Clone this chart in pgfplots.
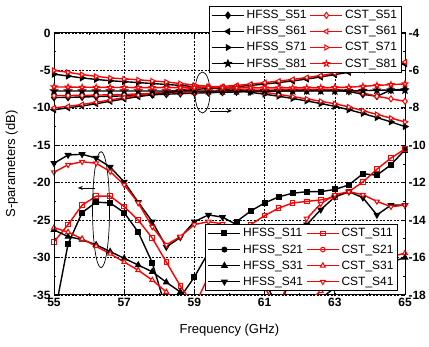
\documentclass[border=0pt]{standalone}
\usepackage{pgfplots}
\pgfplotsset{compat=1.18}
\usepackage{pgfplotstable}
\usepackage{fontspec}
\setmainfont{Liberation Sans}
\usetikzlibrary{plotmarks,arrows.meta}

\pgfdeclareplotmark{fstar}{%
  \pgfpathmoveto{\pgfpointpolar{90}{\pgfplotmarksize}}%
  \pgfpathlineto{\pgfpointpolar{126}{0.42\pgfplotmarksize}}%
  \pgfpathlineto{\pgfpointpolar{162}{\pgfplotmarksize}}%
  \pgfpathlineto{\pgfpointpolar{198}{0.42\pgfplotmarksize}}%
  \pgfpathlineto{\pgfpointpolar{234}{\pgfplotmarksize}}%
  \pgfpathlineto{\pgfpointpolar{270}{0.42\pgfplotmarksize}}%
  \pgfpathlineto{\pgfpointpolar{306}{\pgfplotmarksize}}%
  \pgfpathlineto{\pgfpointpolar{342}{0.42\pgfplotmarksize}}%
  \pgfpathlineto{\pgfpointpolar{18}{\pgfplotmarksize}}%
  \pgfpathlineto{\pgfpointpolar{54}{0.42\pgfplotmarksize}}%
  \pgfpathclose
  \pgfusepathqfillstroke
}

\pgfplotstableread{
f    h11   c11   h21   c21   h31   c31   h41   c41
55.0 -38.0 -27.9 -45.0 -44.0 -26.3 -26.0 -17.4 -18.6
55.4 -28.2 -25.6 -44.0 -43.0 -27.2 -26.6 -16.3 -17.6
55.8 -24.0 -23.0 -43.0 -42.0 -27.6 -27.5 -16.2 -17.2
56.2 -22.6 -21.8 -42.5 -41.5 -28.3 -28.5 -16.7 -17.4
56.6 -22.7 -21.8 -42.0 -41.0 -29.2 -29.5 -17.9 -18.5
57.0 -24.0 -23.2 -41.5 -40.5 -30.1 -30.6 -19.9 -20.3
57.4 -26.6 -25.0 -41.0 -40.0 -31.0 -31.7 -22.6 -22.7
57.8 -30.7 -27.4 -40.5 -39.5 -31.9 -33.0 -25.2 -25.9
58.2 -37.0 -30.6 -40.0 -39.0 -33.3 -34.6 -28.6 -28.3
58.6 -35.3 -33.8 -39.5 -38.5 -34.6 -36.5 -27.3 -27.2
59.0 -32.6 -36.5 -39.0 -38.0 -36.5 -38.0 -25.2 -25.6
59.4 -29.3 -32.5 -38.5 -37.5 -38.0 -39.0 -24.3 -25.2
59.8 -27.0 -29.8 -38.0 -37.0 -39.0 -40.0 -24.6 -25.5
60.2 -25.2 -27.8 -37.5 -36.5 -40.0 -40.5 -25.6 -26.5
60.6 -23.8 -25.6 -37.0 -36.0 -40.0 -40.5 -28.5 -29.0
61.0 -22.7 -24.4 -36.5 -36.0 -39.5 -40.0 -33.0 -34.0
61.4 -21.9 -23.4 -36.5 -36.0 -39.0 -39.0 -37.0 -37.0
61.8 -21.4 -22.7 -37.0 -36.5 -38.0 -37.5 -32.0 -31.0
62.2 -21.2 -22.5 -37.5 -37.0 -37.0 -36.0 -25.6 -24.8
62.6 -21.2 -22.3 -38.0 -37.5 -35.5 -34.5 -23.6 -22.8
63.0 -20.9 -21.9 -38.0 -38.0 -34.0 -33.3 -21.9 -21.6
63.4 -20.3 -21.2 -38.5 -38.0 -33.0 -32.3 -21.2 -21.2
63.8 -18.8 -19.9 -38.5 -38.5 -32.0 -31.3 -22.0 -21.6
64.2 -19.0 -18.2 -39.0 -38.5 -31.2 -30.5 -24.3 -22.5
64.6 -17.6 -16.7 -39.0 -39.0 -30.6 -29.9 -23.0 -23.2
65.0 -15.6 -15.5 -39.5 -39.0 -30.0 -29.4 -23.0 -23.0
}\lowtab

\pgfplotstableread{
f    h51   c51   h61   c61   h71   c71   h81   c81
55.0 -7.45 -7.35 -8.10 -8.00 -6.20 -6.00 -7.10 -6.88
55.4 -7.44 -7.34 -8.00 -7.92 -6.30 -6.10 -7.10 -6.89
55.8 -7.42 -7.33 -7.90 -7.82 -6.40 -6.22 -7.10 -6.90
56.2 -7.40 -7.32 -7.78 -7.70 -6.48 -6.32 -7.10 -6.90
56.6 -7.38 -7.30 -7.65 -7.58 -6.55 -6.40 -7.10 -6.91
57.0 -7.36 -7.28 -7.52 -7.45 -6.60 -6.45 -7.10 -6.91
57.4 -7.33 -7.26 -7.40 -7.32 -6.65 -6.50 -7.10 -6.92
57.8 -7.30 -7.23 -7.30 -7.22 -6.70 -6.56 -7.10 -6.92
58.2 -7.27 -7.20 -7.20 -7.13 -6.75 -6.62 -7.10 -6.92
58.6 -7.24 -7.17 -7.10 -7.04 -6.80 -6.70 -7.10 -6.92
59.0 -7.21 -7.15 -7.02 -6.95 -6.87 -6.78 -7.10 -6.92
59.4 -7.19 -7.12 -6.96 -6.88 -6.93 -6.85 -7.10 -6.92
59.8 -7.17 -7.10 -6.92 -6.85 -7.00 -6.92 -7.10 -6.93
60.2 -7.15 -7.08 -6.87 -6.80 -7.08 -7.00 -7.10 -6.93
60.6 -7.13 -7.06 -6.80 -6.73 -7.17 -7.08 -7.10 -6.93
61.0 -7.11 -7.05 -6.73 -6.65 -7.27 -7.17 -7.10 -6.93
61.4 -7.10 -7.04 -6.65 -6.57 -7.38 -7.28 -7.10 -6.93
61.8 -7.09 -7.03 -6.56 -6.48 -7.50 -7.40 -7.10 -6.93
62.2 -7.08 -7.02 -6.46 -6.38 -7.63 -7.52 -7.10 -6.93
62.6 -7.07 -7.01 -6.35 -6.27 -7.77 -7.65 -7.10 -6.92
63.0 -7.07 -7.02 -6.22 -6.15 -7.92 -7.78 -7.10 -6.91
63.4 -7.12 -7.06 -6.10 -6.02 -8.10 -7.95 -7.09 -6.90
63.8 -7.28 -7.20 -5.98 -5.90 -8.30 -8.15 -7.08 -6.85
64.2 -7.38 -7.38 -5.87 -5.78 -8.52 -8.35 -7.06 -6.80
64.6 -7.05 -7.52 -5.76 -5.67 -8.75 -8.55 -7.05 -6.76
65.0 -7.00 -7.65 -5.65 -5.55 -9.00 -8.75 -7.05 -6.72
}\hightab

\pgfplotsset{
  hf/.style={black, line width=1.4pt, mark size=2.3pt, every mark/.append style={solid, fill=black}},
  cs/.style={red, line width=1.4pt, mark size=2.3pt, every mark/.append style={solid, fill=white, line width=1pt}},
  common/.style={
    at={(54pt,51pt)}, anchor=south west, scale only axis,
    width=351pt, height=262pt, xmin=55, xmax=65,
    tick align=inside, major tick length=4pt, minor tick length=2pt,
    axis line style={line width=1pt},
    every tick/.style={black, line width=0.9pt},
    tick label style={font=\fontsize{12}{14}\selectfont\bfseries},
    /pgf/number format/assume math mode=true,
    legend cell align=left,
    legend image code/.code={\draw[mark repeat=2,mark phase=2] plot coordinates {(0pt,0pt) (16pt,0pt) (32pt,0pt)};},
  },
  legbox/.style={draw=black, line width=0.8pt, fill=white,
    font=\fontsize{12}{13}\selectfont, inner sep=2pt, row sep=2.2pt,
    /tikz/every even column/.append style={column sep=1pt}},
}

\begin{document}
\begin{tikzpicture}
\begin{axis}[common,
  ymin=-35, ymax=0,
  xtick={55,57,...,65}, minor x tick num=1,
  ytick={-35,-30,...,0}, minor y tick num=1,
  ytick pos=left,
  grid=major, major grid style={black, line width=0.5pt, dash pattern=on 2pt off 1.5pt},
  xlabel={Frequency (GHz)}, ylabel={S-parameters (dB)},
  label style={font=\fontsize{13}{15}\selectfont},
  xlabel style={at={(axis description cs:0.5,-0.134)}, anchor=center},
  ylabel style={at={(axis description cs:-0.12,0.5)}, anchor=center},
  legend columns=2,
  legend style={legbox, at={(0.980,0.015)}, anchor=south east},
]
\addplot[hf, mark=square*] table[x=f,y=h11]{\lowtab};
\addlegendentry{HFSS\_S11}
\addplot[cs, mark=square] table[x=f,y=c11]{\lowtab};
\addlegendentry{CST\_S11}
\addplot[hf, mark=*] table[x=f,y=h21]{\lowtab};
\addlegendentry{HFSS\_S21}
\addplot[cs, mark=o] table[x=f,y=c21]{\lowtab};
\addlegendentry{CST\_S21}
\addplot[hf, mark=triangle*, mark size=2.8pt] table[x=f,y=h31]{\lowtab};
\addlegendentry{HFSS\_S31}
\addplot[cs, mark=triangle*, mark size=2.8pt] table[x=f,y=c31]{\lowtab};
\addlegendentry{CST\_S31}
\addplot[hf, mark=triangle*, mark size=2.8pt, every mark/.append style={rotate=180}] table[x=f,y=h41]{\lowtab};
\addlegendentry{HFSS\_S41}
\addplot[cs, mark=triangle*, mark size=2.8pt, every mark/.append style={rotate=180}] table[x=f,y=c41]{\lowtab};
\addlegendentry{CST\_S41}
\draw[line width=0.7pt] (axis cs:56.34,-23.6) ellipse [x radius=8.5pt, y radius=58pt];
\draw[line width=0.7pt, -{Stealth[length=5pt,width=4pt]}] (axis cs:56.17,-20.7) -- (axis cs:55.68,-20.7);
\end{axis}

\begin{axis}[common,
  ymin=-18, ymax=-4,
  hide x axis,
  ytick={-18,-16,...,-4}, minor y tick num=1,
  ytick pos=right,
  legend columns=2,
  legend style={legbox, at={(0.990,1.103)}, anchor=north east},
]
\addplot[hf, mark=diamond*, mark size=3pt] table[x=f,y=h51]{\hightab};
\addlegendentry{HFSS\_S51}
\addplot[cs, mark=diamond*, mark size=3pt] table[x=f,y=c51]{\hightab};
\addlegendentry{CST\_S51}
\addplot[hf, mark=triangle*, mark size=2.8pt, every mark/.append style={rotate=90}] table[x=f,y=h61]{\hightab};
\addlegendentry{HFSS\_S61}
\addplot[cs, mark=triangle*, mark size=2.8pt, every mark/.append style={rotate=90}] table[x=f,y=c61]{\hightab};
\addlegendentry{CST\_S61}
\addplot[hf, mark=triangle*, mark size=2.8pt, every mark/.append style={rotate=-90}] table[x=f,y=h71]{\hightab};
\addlegendentry{HFSS\_S71}
\addplot[cs, mark=triangle*, mark size=2.8pt, every mark/.append style={rotate=-90}] table[x=f,y=c71]{\hightab};
\addlegendentry{CST\_S71}
\addplot[hf, mark=fstar, mark size=3pt] table[x=f,y=h81]{\hightab};
\addlegendentry{HFSS\_S81}
\addplot[cs, mark=fstar, mark size=3pt] table[x=f,y=c81]{\hightab};
\addlegendentry{CST\_S81}
\draw[line width=0.7pt] (axis cs:59.23,-7.18) ellipse [x radius=7.5pt, y radius=20.5pt];
\draw[line width=0.7pt, -{Stealth[length=5pt,width=4pt]}] (axis cs:59.44,-8.16) -- (axis cs:60.07,-8.16);
\end{axis}
\pgfresetboundingbox
\path[use as bounding box] (0pt,0pt) rectangle (429pt,346pt);
\end{tikzpicture}
\end{document}
